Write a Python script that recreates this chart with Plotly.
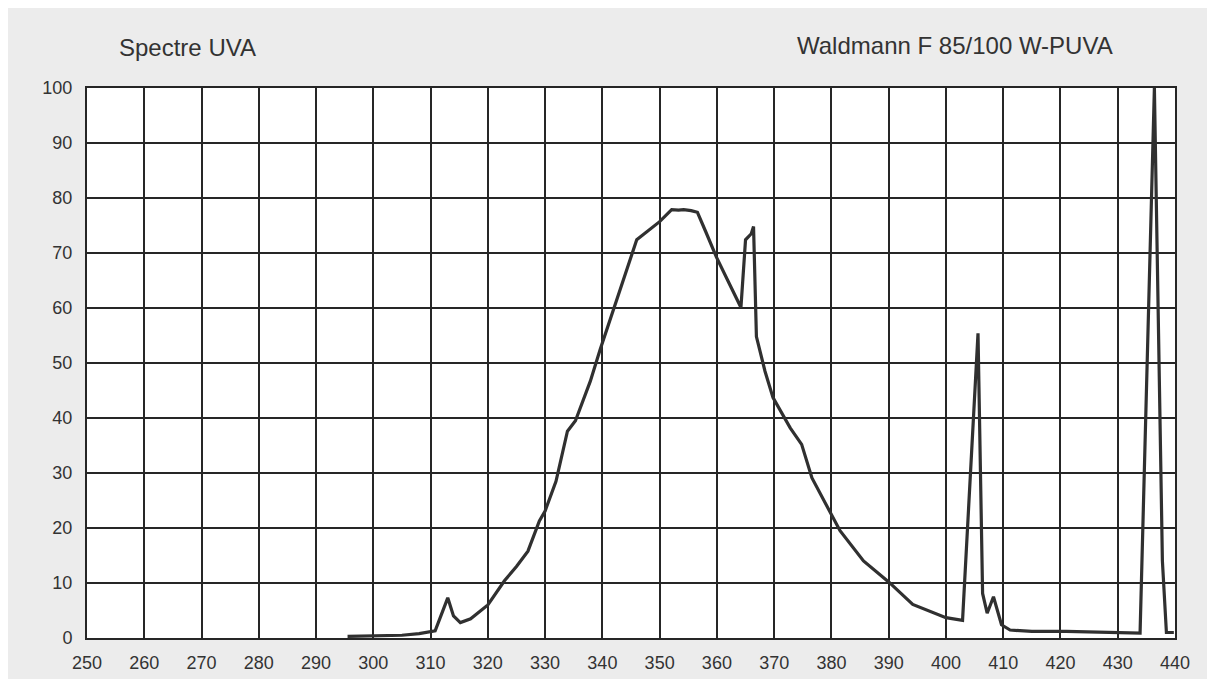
import plotly.graph_objects as go

wavelength = [295.5, 300, 305, 308, 310.8, 313.0, 314.0, 315.2, 317, 320,
              322.9, 325, 327.0, 329.0, 330, 331.9, 333.0, 333.9, 335.3, 336.8,
              337.9, 339.6, 342.5, 344.3, 346.0, 350.0, 352.1, 353.3, 354.2, 355.5,
              356.6, 358, 359.9, 361.9, 364.2, 365.0, 366.0, 366.4, 366.9, 368.4,
              369.8, 372.8, 374.8, 376.6, 379.8, 381.5, 385.6, 390, 394.2, 400,
              402.9, 405.6, 406.4, 407.2, 408.3, 409.7, 411.2, 415, 421, 428,
              433.9, 436.4, 437.8, 438.5, 439.8]
intensity = [0.3, 0.4, 0.5, 0.8, 1.3, 7.3, 4.0, 2.8, 3.5, 6.0,
             10.4, 13.0, 15.8, 21.3, 23.1, 28.5, 33.4, 37.6, 39.5, 43.7,
             46.7, 52.4, 61.5, 67.0, 72.4, 75.7, 77.9, 77.8, 77.9, 77.7,
             77.4, 74.0, 69.3, 65.0, 60.1, 72.4, 73.5, 74.8, 54.8, 48.5,
             43.7, 38.2, 35.2, 29.1, 22.8, 19.5, 14.0, 10.2, 6.1, 3.7,
             3.2, 55.4, 8.1, 4.5, 7.5, 2.4, 1.45, 1.2, 1.2, 1.0,
             0.9, 100, 14.0, 1.0, 1.0]

x_ticks = list(range(250, 441, 10))
y_ticks = list(range(0, 101, 10))
title_left = "Spectre UVA"
title_right = "Waldmann F 85/100 W-PUVA"

# page body has an 8px margin; figure is placed at (8, 8)
OFF = 8
W, H = 1215 - OFF, 679 - OFF
L, T = 87 - OFF, 88 - OFF
R, B = W - (1175 - OFF), H - (638 - OFF)
pw, ph = W - L - R, H - T - B

def px(xpix):
    return (xpix - OFF - L) / pw

def py(ypix):
    return (H - B - (ypix - OFF)) / ph

FONT = "Liberation Sans, Arial, sans-serif"

fig = go.Figure()
fig.add_trace(go.Scatter(
    x=wavelength, y=intensity, mode="lines",
    line=dict(color="#303030", width=3.2),
    hoverinfo="x+y", showlegend=False,
))

grid = "#262626"
fig.update_xaxes(
    range=[250, 440], tickvals=x_ticks, ticktext=[str(v) for v in x_ticks],
    showgrid=True, gridcolor=grid, gridwidth=1.8,
    showline=True, linecolor=grid, linewidth=2, mirror=True,
    zeroline=False, ticks="", ticklabelstandoff=7, automargin=False,
    tickfont=dict(family=FONT, size=18, color="#333333"),
)
fig.update_yaxes(
    range=[0, 100], tickvals=y_ticks, ticktext=[str(v) for v in y_ticks],
    showgrid=True, gridcolor=grid, gridwidth=1.8,
    showline=True, linecolor=grid, linewidth=2, mirror=True,
    zeroline=False, ticks="", ticklabelstandoff=9, automargin=False,
    tickfont=dict(family=FONT, size=18, color="#333333"),
)

fig.add_annotation(text=title_left, xref="paper", yref="paper",
                   x=px(117), y=py(47), xanchor="left", yanchor="middle",
                   showarrow=False,
                   font=dict(family=FONT, size=24, color="#333333"))
fig.add_annotation(text=title_right, xref="paper", yref="paper",
                   x=px(795), y=py(45), xanchor="left", yanchor="middle",
                   showarrow=False,
                   font=dict(family=FONT, size=24, color="#333333"))

fig.update_layout(
    width=W, height=H,
    margin=dict(l=L, r=R, t=T, b=B),
    paper_bgcolor="#ececec", plot_bgcolor="white",
    font=dict(family=FONT, color="#333333"),
)

fig.write_html("out.html")
